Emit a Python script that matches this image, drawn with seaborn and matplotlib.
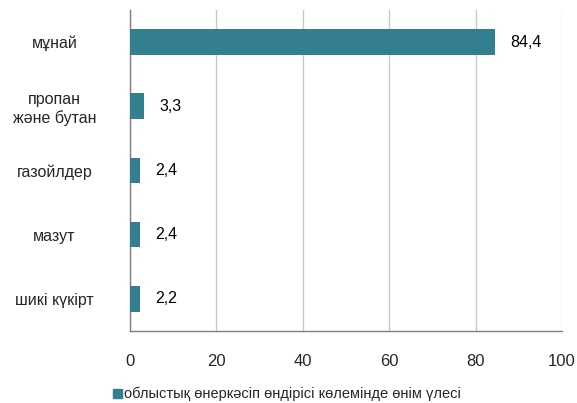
"""Share of products in regional industrial output."""

import seaborn as sns
import matplotlib.pyplot as plt
import matplotlib.patches as mpatches
import pandas as pd

categories = ["мұнай", "пропан\nжәне бутан", "газойлдер", "мазут", "шикі күкірт"]
shares = [84.4, 3.3, 2.4, 2.4, 2.2]
share_labels = ["84,4", "3,3", "2,4", "2,4", "2,2"]
x_ticks = [0, 20, 40, 60, 80, 100]
legend_label = "облыстық өнеркәсіп өндірісі көлемінде өнім үлесі"

bar_colour = "#337E8F"

df = pd.DataFrame({"product": categories, "share": shares})

sns.set_style("white")
plt.rcParams["font.family"] = ["Liberation Sans", "DejaVu Sans"]

fig = plt.figure(figsize=(5.77, 4.03), dpi=100)
ax = fig.add_axes([0.2253, 0.179, 0.7487, 0.796])

# Create horizontal barplot.
sns.barplot(
    data=df,
    x="share",
    y="product",
    order=categories,
    color=bar_colour,
    saturation=1,
    width=0.4,
    orient="h",
    linewidth=0,
    ax=ax,
    zorder=3,
)

# Value labels next to bars.
for patch, text in zip(ax.patches, share_labels):
    ax.annotate(
        text,
        xy=(patch.get_width(), patch.get_y() + patch.get_height() / 2),
        xytext=(11, 0),
        textcoords="offset points",
        va="center",
        ha="left",
        fontsize=11.5,
        color="black",
    )

# Axes limits and ticks.
ax.set_xlim(0, 100)
ax.set_ylim(4.5, -0.5)
ax.set_xticks(x_ticks)
ax.set_xticklabels([str(t) for t in x_ticks], fontsize=12)
ax.tick_params(axis="x", length=4, color="#7F7F7F", pad=13)
ax.tick_params(axis="y", which="major", length=0, pad=10, labelsize=11.5)
ax.set_yticks([i - 0.5 for i in range(6)], minor=True)
ax.tick_params(axis="y", which="minor", length=5, color="#7F7F7F")
for lbl in ax.get_yticklabels():
    lbl.set_horizontalalignment("center")
    lbl.set_multialignment("center")
    lbl.set_x(-0.143)

# Grid and spines.
ax.grid(axis="x", color="#C8C8C8", linewidth=1, zorder=0)
ax.grid(axis="y", visible=False)
for side in ["top", "right"]:
    ax.spines[side].set_visible(False)
for side in ["left", "bottom"]:
    ax.spines[side].set_color("#7F7F7F")
    ax.spines[side].set_linewidth(1)

ax.set_xlabel("")
ax.set_ylabel("")

# Legend below the plot.
handle = mpatches.Rectangle((0, 0), 1, 1, color=bar_colour)
fig.legend(
    handles=[handle],
    labels=[legend_label],
    loc="center",
    bbox_to_anchor=(0.497, 0.022),
    frameon=False,
    fontsize=10.5,
    handlelength=0.6,
    handleheight=0.6,
    handletextpad=0.15,
)

fig.savefig("out.png", dpi=100)
plt.close()
